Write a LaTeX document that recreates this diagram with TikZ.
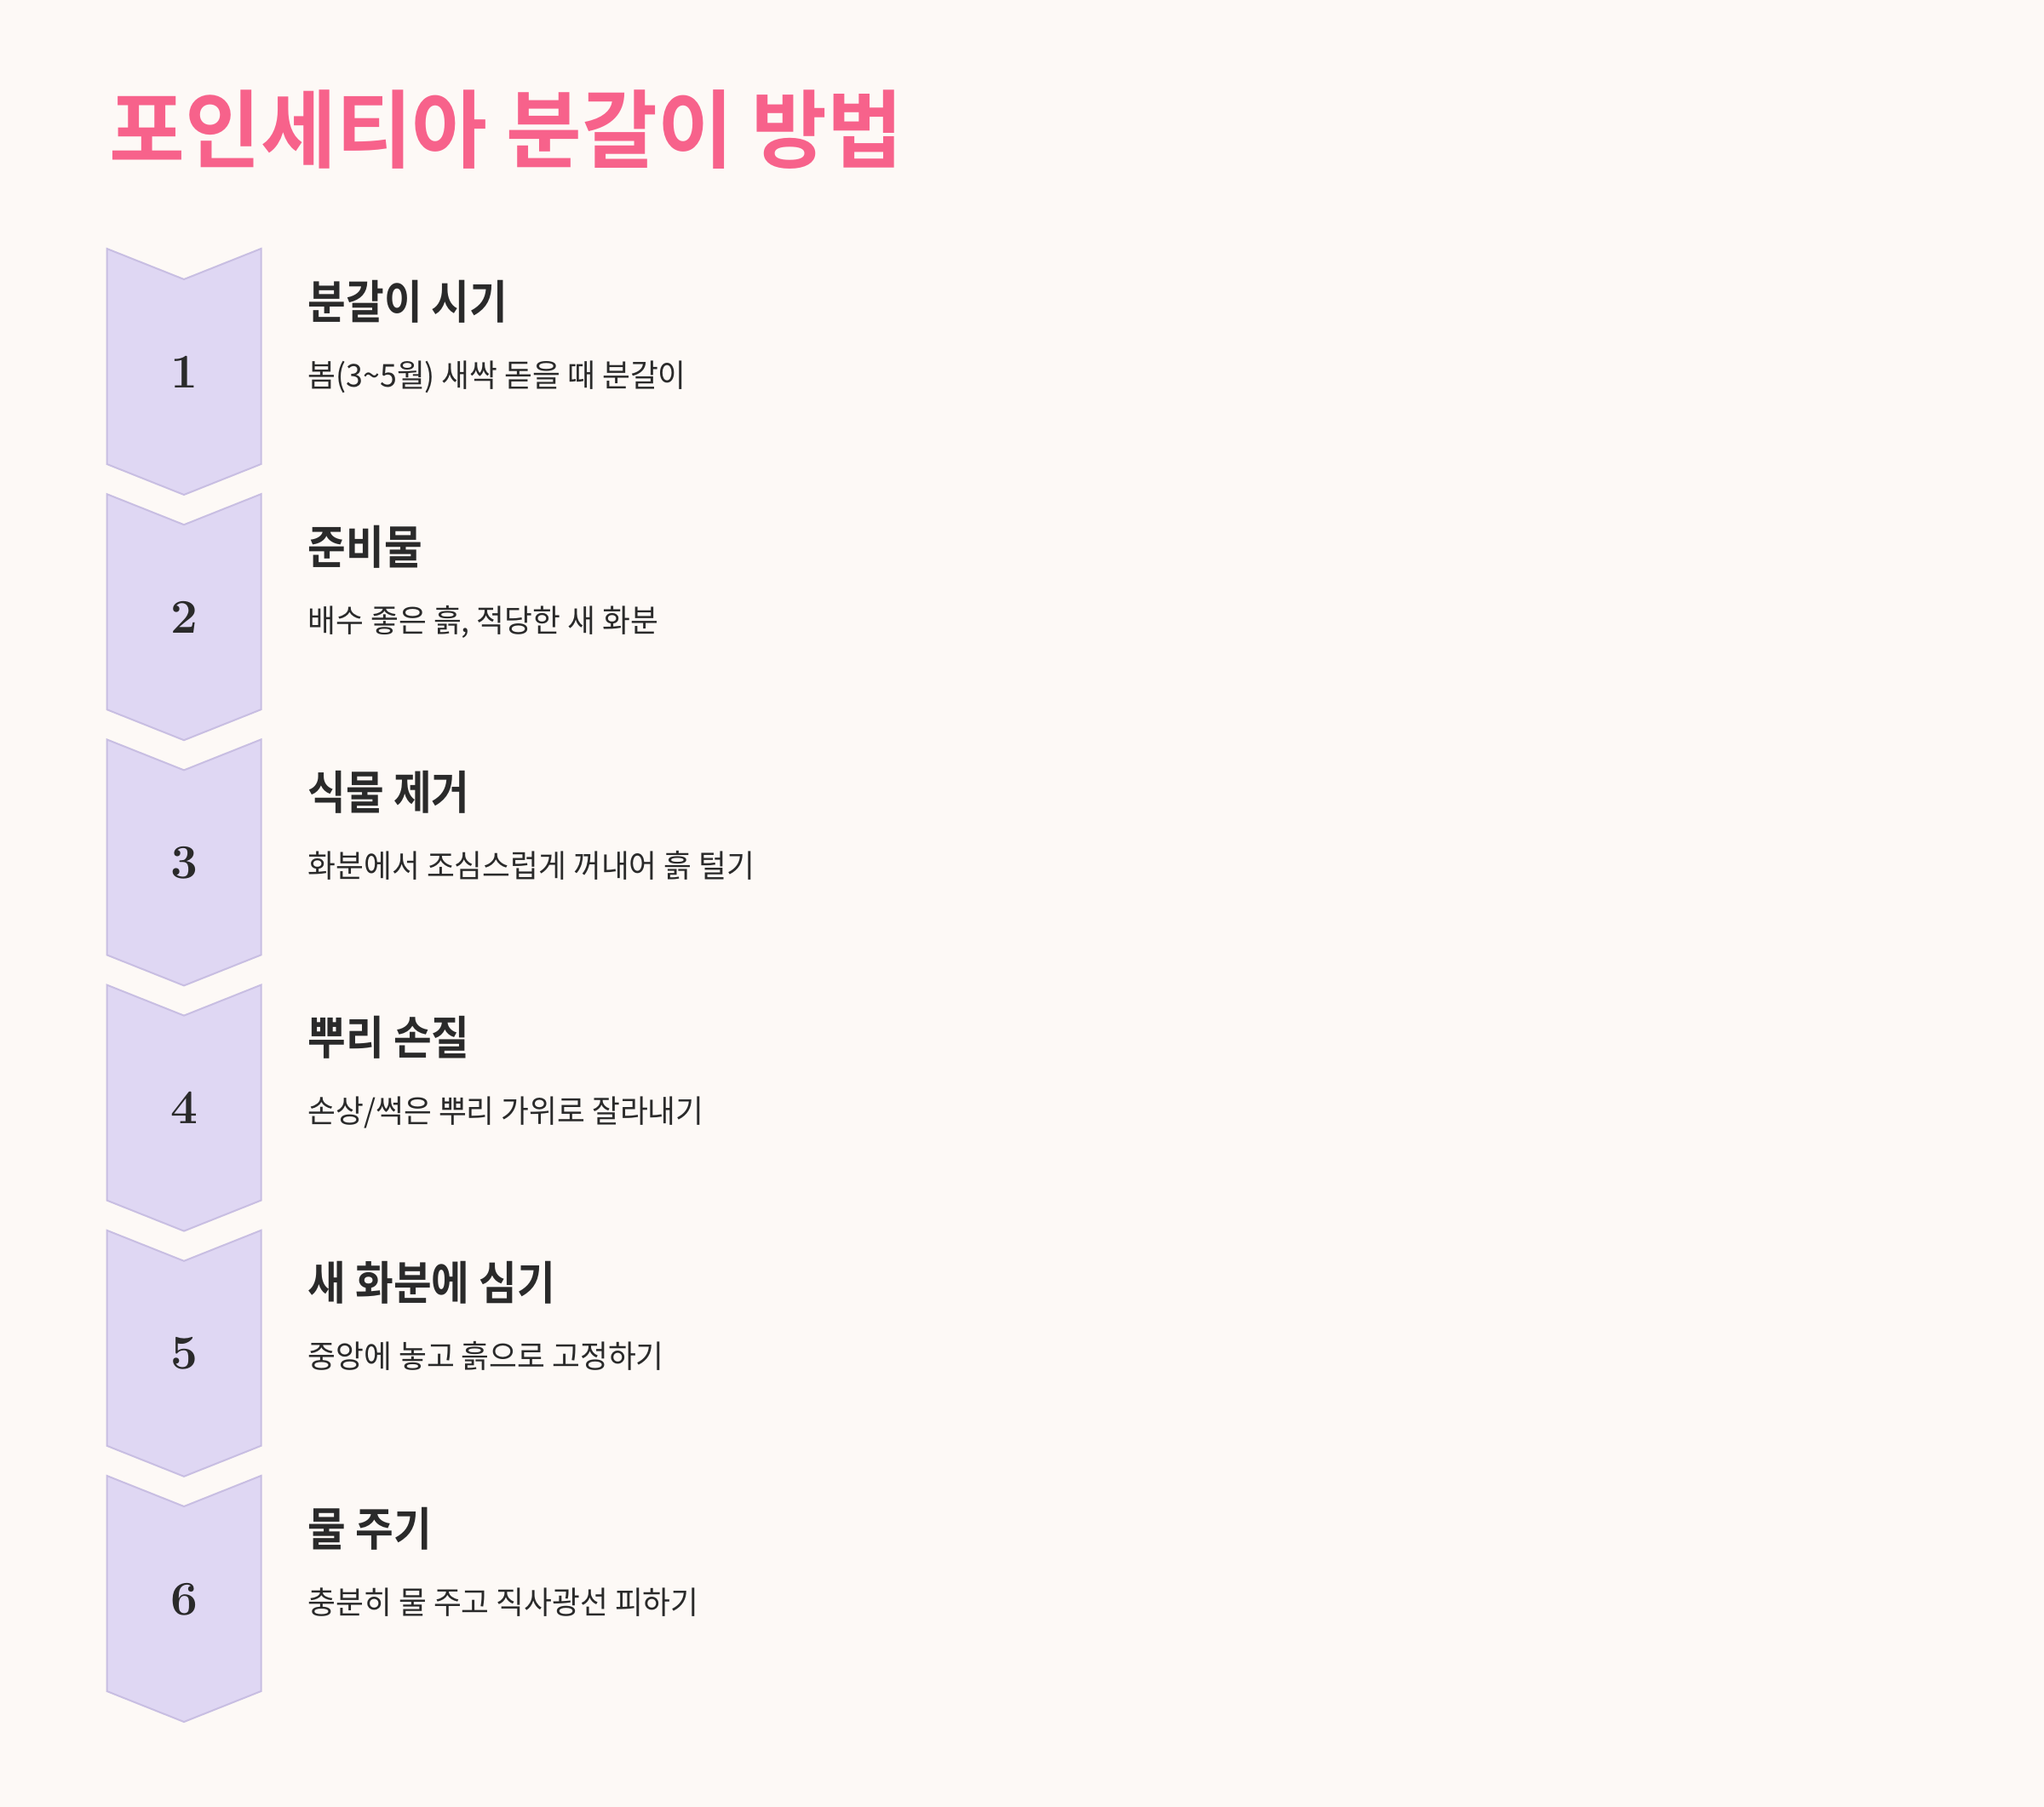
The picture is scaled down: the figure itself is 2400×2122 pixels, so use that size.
\documentclass[tikz,border=0pt]{standalone}
\usepackage{fontspec}
\newfontfamily\krdesc{Noto Sans CJK KR}[FakeStretch=0.965]
\newfontfamily\krhead{Noto Sans CJK KR Bold}[FakeStretch=0.9]
\newfontfamily\krtitle{Noto Sans CJK KR Bold}[FakeStretch=0.965]
\definecolor{bgc}{HTML}{FDF9F6}
\definecolor{chfill}{HTML}{DFD7F3}
\definecolor{chline}{HTML}{C8BEE2}
\definecolor{pinkc}{HTML}{F7628B}
\definecolor{darkc}{HTML}{2A2A2A}
\tikzset{
  chev/.style={fill=chfill, draw=chline, line width=0.6pt, line join=miter},
  numtxt/.style={anchor=base, inner sep=0pt, text=darkc, font=\fontsize{17}{20}\selectfont\bfseries},
  steptitle/.style={anchor=base west, inner sep=0pt, text=darkc, font=\krhead\fontsize{16.2}{19}\selectfont},
  stepdesc/.style={anchor=base west, inner sep=0pt, text=darkc, font=\krdesc\fontsize{11.1}{13}\selectfont},
  maintitle/.style={anchor=base west, inner sep=0pt, text=pinkc, font=\krtitle\fontsize{30}{34}\selectfont}
}
\begin{document}
\begin{tikzpicture}[x=0.3pt,y=-0.3pt]
\fill[bgc] (0,0) rectangle (2400,2122);
\useasboundingbox (0,0) rectangle (2400,2122);
\node[maintitle] (title) at (128,189) {포인세티아 분갈이 방법};
\foreach \i/\t/\d in {
  1/{분갈이 시기}/{봄(3\textasciitilde5월) 새싹 돋을 때 분갈이},
  2/{준비물}/{배수 좋은 흙, 적당한 새 화분},
  3/{식물 제거}/{화분에서 조심스럽게 꺼내어 흙 털기},
  4/{뿌리 손질}/{손상/썩은 뿌리 가위로 잘라내기},
  5/{새 화분에 심기}/{중앙에 놓고 흙으로 고정하기},
  6/{물 주기}/{충분히 물 주고 직사광선 피하기}} {
  \pgfmathsetmacro{\tp}{292+288.2*(\i-1)}
  \draw[chev] (125.5,\tp) -- (216,\tp+36) -- (306.5,\tp) -- (306.5,\tp+253)
     -- (216,\tp+289) -- (125.5,\tp+253) -- cycle;
  \node[numtxt] (num\i) at (216,\tp+163) {\i};
  \node[steptitle] (head\i) at (361,\tp+82) {\t};
  \node[stepdesc] (desc\i) at (361,\tp+162) {\d};
}
\end{tikzpicture}
\end{document}
